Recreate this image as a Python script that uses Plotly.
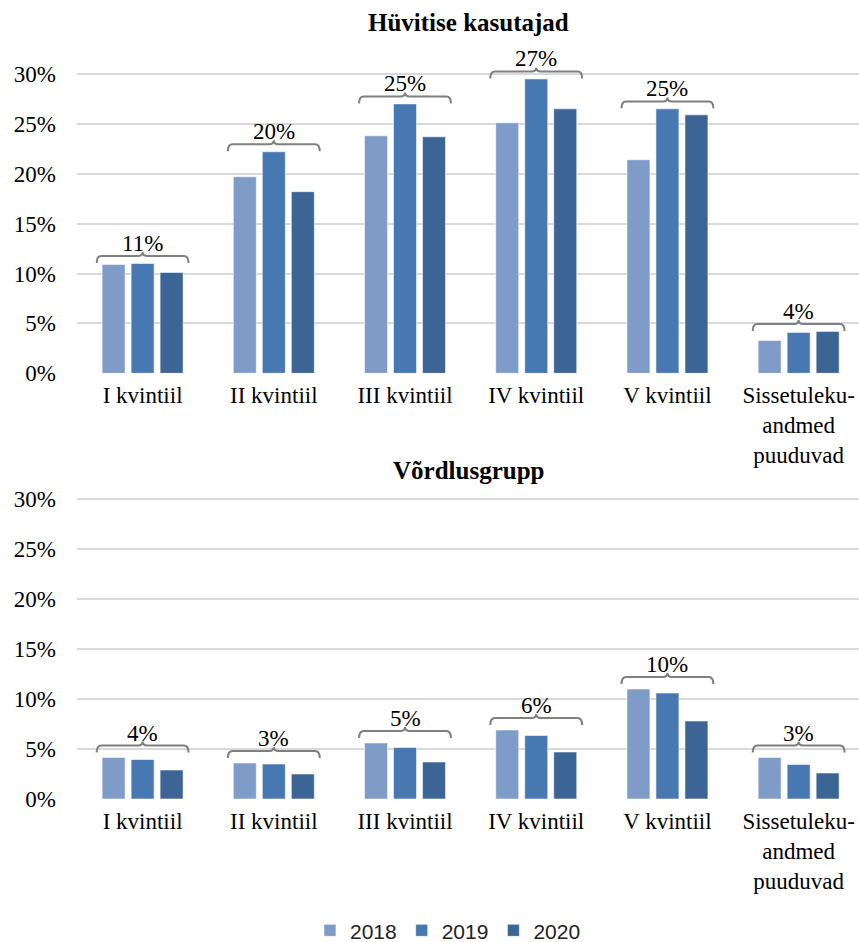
import plotly.graph_objects as go

# Income quintiles shown on the x axis
categories = [
    "I kvintiil",
    "II kvintiil",
    "III kvintiil",
    "IV kvintiil",
    "V kvintiil",
    "Sissetuleku-<br>andmed<br>puuduvad",
]
years = ["2018", "2019", "2020"]

# Share (%) among benefit users
users_2018 = [10.9, 19.7, 23.8, 25.1, 21.4, 3.3]
users_2019 = [11.0, 22.2, 27.0, 29.5, 26.5, 4.1]
users_2020 = [10.1, 18.2, 23.7, 26.5, 25.9, 4.2]

# Share (%) in the comparison group
comp_2018 = [4.15, 3.6, 5.6, 6.9, 11.0, 4.15]
comp_2019 = [3.95, 3.5, 5.15, 6.35, 10.6, 3.45]
comp_2020 = [2.9, 2.5, 3.7, 4.7, 7.8, 2.6]

panel_titles = ["Hüvitise kasutajad", "Võrdlusgrupp"]
y_ticks = [0, 5, 10, 15, 20, 25, 30]
y_tick_text = ["0%", "5%", "10%", "15%", "20%", "25%", "30%"]

colors = {"2018": "#7f9cc8", "2019": "#4878b1", "2020": "#3c6596"}
SERIF = "Liberation Serif, Times New Roman, serif"
SANS = "Liberation Sans, Arial, sans-serif"
W, H = 859, 942

fig = go.Figure()
x_pos = list(range(len(categories)))

panels = [
    ("x", "y", [users_2018, users_2019, users_2020], 0.75),
    ("x2", "y2", [comp_2018, comp_2019, comp_2020], 1.2),
]

half = 0.35   # half-width of the group bracket (x units)
drop = 0.7    # bracket end drop (y units)
rise = 0.4    # bracket centre tick (y units)
r = 0.035     # corner rounding (x units)

for xa, ya, series, gap in panels:
    for year, vals in zip(years, series):
        fig.add_trace(go.Bar(
            x=x_pos, y=vals, name=year,
            marker=dict(color=colors[year],
                        line=dict(color="rgba(255,255,255,0.55)", width=1)),
            xaxis=xa, yaxis=ya, offsetgroup=year, legendgroup=year,
            showlegend=(xa == "x"), hoverinfo="skip",
        ))
    for i in x_pos:
        group = [s[i] for s in series]
        mean = sum(group) / len(group)
        yb = max(group) + gap
        xl, xr, xc = i - half, i + half, i
        path = (
            f"M {xl},{yb - drop} Q {xl},{yb} {xl + r},{yb} "
            f"L {xc - r},{yb} Q {xc},{yb} {xc},{yb + rise} "
            f"Q {xc},{yb} {xc + r},{yb} "
            f"L {xr - r},{yb} Q {xr},{yb} {xr},{yb - drop}"
        )
        fig.add_shape(type="path", path=path, xref=xa, yref=ya,
                      line=dict(color="#7f7f7f", width=2))
        fig.add_annotation(
            x=xc, y=yb, xref=xa, yref=ya, text=f"{mean:.0f}%",
            showarrow=False, yanchor="bottom", yshift=-2,
            font=dict(family=SERIF, size=23, color="black"),
        )


def x_axis(anchor):
    return dict(
        anchor=anchor, range=[-0.5, 5.46],
        tickmode="array", tickvals=x_pos, ticktext=categories,
        showgrid=False, zeroline=False, showline=False, ticks="",
        tickfont=dict(family=SERIF, size=23, color="black"),
        ticklabelstandoff=6, fixedrange=True, automargin=False,
    )


def y_axis(anchor, domain):
    return dict(
        anchor=anchor, domain=domain, range=[0, 32],
        tickmode="array", tickvals=y_ticks, ticktext=y_tick_text,
        showgrid=True, gridcolor="#d9d9d9", gridwidth=1.6,
        zeroline=False, showline=False, ticks="",
        tickfont=dict(family=SERIF, size=23, color="black"),
        ticklabelstandoff=20, fixedrange=True, automargin=False,
    )


fig.update_layout(
    width=W, height=H,
    margin=dict(l=77, r=0, t=0, b=0, autoexpand=False),
    paper_bgcolor="white", plot_bgcolor="white",
    barmode="group", bargap=0.337, bargroupgap=0.207,
    xaxis=x_axis("y"),
    yaxis=y_axis("x", [0.6037, 0.9427]),
    xaxis2=x_axis("y2"),
    yaxis2=y_axis("x2", [0.1518, 0.4915]),
    legend=dict(
        orientation="h", xref="container", yref="container",
        x=0.5215, xanchor="center", y=0.012, yanchor="middle",
        font=dict(family=SANS, size=21, color="#222222"),
        itemwidth=30, traceorder="normal",
    ),
    showlegend=True,
)

for title, ypix in zip(panel_titles, [23, 470]):
    fig.add_annotation(
        x=0.5, y=1 - ypix / H, xref="paper", yref="paper", text=f"<b>{title}</b>",
        showarrow=False, yanchor="middle", xanchor="center",
        font=dict(family=SERIF, size=25, color="black"),
    )

fig.write_html("out.html")
